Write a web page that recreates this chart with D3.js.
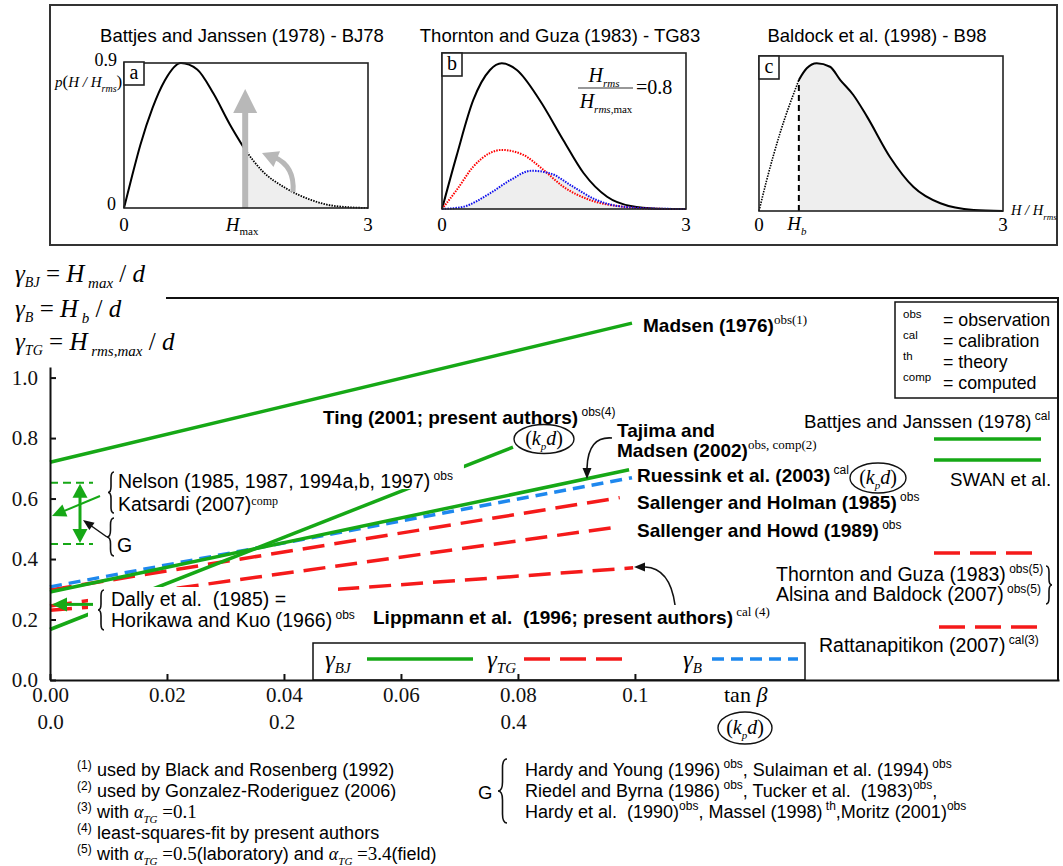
<!DOCTYPE html>
<html>
<head>
<meta charset="utf-8">
<script src="https://cdn.jsdelivr.net/npm/d3@7"></script>
<style>
    body { margin: 0; background: #fff; }
    text { white-space: pre; }
</style>
</head>
<body>
<script>
/*
 * Breaker index overview: wave height distributions (top) and
 * gamma vs. beach slope / kp*d (bottom).
 */

// ---- data ----
var slopeTicks = [0, 0.02, 0.04, 0.06, 0.08, 0.1];
var slopeLabels = ["0.00", "0.02", "0.04", "0.06", "0.08", "0.1"];
var kdTicks = [0, 0.2, 0.4];
var kdLabels = ["0.0", "0.2", "0.4"];
var gammaTicks = [0, 0.2, 0.4, 0.6, 0.8, 1.0];

// [tan beta, gamma]
var madsen76 = [[0, 0.72], [0.0995, 1.18]];
var tajima02 = [[0, 0.291], [0.099, 0.695]];
var ruessink03 = [[0, 0.308], [0.0995, 0.669]];
var holman85 = [[0, 0.298], [0.0974, 0.603]];
var howd89 = [[0, 0.245], [0.0974, 0.507]];
var lippmann96 = [[0, 0.231], [0.0997, 0.371]];
// [kp d, gamma]
var ting01 = [[0, 0.167], [0.4, 0.77]];
var gRange = [0.45, 0.652];
var nelsonValue = 0.546;
var dallyValue = 0.25;

// wave height pdfs, [H/Hrms, p]
var bjBody = [[0, 0], [0.1, 0.2], [0.2, 0.39], [0.35, 0.62], [0.5, 0.79], [0.7, 0.9], [0.9, 0.86],
    [1.1, 0.71], [1.3, 0.52], [1.49, 0.36]];
var bjTail = [[1.49, 0.36], [1.7, 0.23], [2.0, 0.12], [2.3, 0.05], [2.6, 0.012], [3, 0]];
var tgFull = [[0, 0], [0.18, 0.31], [0.385, 0.633], [0.59, 0.807], [0.735, 0.846], [0.92, 0.807],
    [1.2, 0.633], [1.49, 0.401], [1.74, 0.209], [2.03, 0.071], [2.32, 0.017], [2.64, 0.002], [3, 0]];
var tgBroken = [[0, 0], [0.18, 0.11], [0.385, 0.246], [0.59, 0.325], [0.735, 0.343], [1.0, 0.314],
    [1.25, 0.226], [1.49, 0.13], [1.82, 0.052], [2.23, 0.013], [2.64, 0.001], [3, 0]];
var tgWeighted = [[0, 0], [0.26, 0.013], [0.59, 0.091], [0.84, 0.168], [1.1, 0.222], [1.33, 0.207],
    [1.61, 0.13], [1.9, 0.052], [2.23, 0.013], [2.64, 0.002], [3, 0]];
var b98Below = [[0, 0], [0.095, 0.181], [0.258, 0.454], [0.49, 0.766]];
var b98Above = [[0.49, 0.766], [0.587, 0.834], [0.71, 0.863], [0.873, 0.843], [1.0, 0.765],
    [1.16, 0.678], [1.33, 0.55], [1.61, 0.316], [1.9, 0.14], [2.23, 0.045], [2.64, 0.006], [3, 0]];
var hMax = 1.49;
var hB = 0.49;

var SANS = "'Liberation Sans', Arial, sans-serif";
var SERIF = "'Liberation Serif', 'Times New Roman', serif";
var GREEN = "#16a816";
var RED = "#f51a1a";
var BLUE = "#1e88ee";

var svg = d3.select("body").append("svg")
        .attr("width", 1063)
        .attr("height", 866);

// text with sub/superscript pieces
function rich(parent, x, y, segs, base) {
    var t = parent.append("text")
            .attr("x", x)
            .attr("y", y)
            .attr("font-family", base.font || SANS)
            .attr("font-size", base.size)
            .attr("font-weight", base.bold ? "bold" : "normal")
            .attr("font-style", base.italic ? "italic" : "normal")
            .attr("text-anchor", base.anchor || "start");
    var shift = 0;
    segs.forEach(function (s) {
        if (typeof s === "string") s = {t: s};
        var target = s.shift || 0;
        var sp = t.append("tspan").text(s.t).attr("dy", target - shift);
        if (s.dx) sp.attr("dx", s.dx);
        if (s.size) sp.attr("font-size", s.size);
        if (s.font) sp.attr("font-family", s.font);
        if (s.bold != null) sp.attr("font-weight", s.bold ? "bold" : "normal");
        if (s.italic != null) sp.attr("font-style", s.italic ? "italic" : "normal");
        shift = target;
    });
    return t;
}

function sup(t, serif, size, shift) {
    return {t: t, shift: shift || -8, size: size || 12, font: serif ? SERIF : SANS, bold: false};
}
function sub(t, size) {
    return {t: t, shift: 5, size: size || 14, font: SERIF, italic: true};
}
function it(t) {
    return {t: t, font: SERIF, italic: true};
}

function brace(parent, x, y0, y1, w) {
    // w > 0: "{" with tip at x, w < 0: "}"
    var m = (y0 + y1) / 2, h = w / 2, r = Math.abs(w);
    var p = "M" + (x + w) + "," + y0
            + " Q" + (x + h) + "," + y0 + " " + (x + h) + "," + (y0 + r)
            + " L" + (x + h) + "," + (m - r)
            + " Q" + (x + h) + "," + m + " " + x + "," + m
            + " Q" + (x + h) + "," + m + " " + (x + h) + "," + (m + r)
            + " L" + (x + h) + "," + (y1 - r)
            + " Q" + (x + h) + "," + y1 + " " + (x + w) + "," + y1;
    parent.append("path").attr("d", p)
            .attr("fill", "none").attr("stroke", "#111").attr("stroke-width", 1.6);
}

function head(parent, x, y, ang, len, wid, color) {
    var c = Math.cos(ang), s = Math.sin(ang);
    var bx = x - c * len, by = y - s * len;
    parent.append("polygon")
            .attr("points", [[x, y], [bx - s * wid / 2, by + c * wid / 2], [bx + s * wid / 2, by - c * wid / 2]]
                    .map(function (p) { return p.join(","); }).join(" "))
            .attr("fill", color);
}

// ---- top: three distribution panels ----
svg.append("rect")
        .attr("x", 50).attr("y", 5).attr("width", 1007).attr("height", 240)
        .attr("fill", "none").attr("stroke", "#333").attr("stroke-width", 2);

var panels = [
    {x0: 124, x1: 368, yb: 208, yt: 63, letter: "a", title: "Battjes and Janssen (1978) - BJ78"},
    {x0: 442, x1: 686, yb: 209, yt: 54, letter: "b", title: "Thornton and Guza (1983) - TG83"},
    {x0: 759, x1: 1003, yb: 211, yt: 57, letter: "c", title: "Baldock et al. (1998) - B98"}
];

panels.forEach(function (p) {
    p.x = d3.scaleLinear().domain([0, 3]).range([p.x0, p.x1]);
    p.y = d3.scaleLinear().domain([0, 0.9]).range([p.yb, p.yt]);
    p.line = d3.line().curve(d3.curveMonotoneX)
            .x(function (d) { return p.x(d[0]); })
            .y(function (d) { return p.y(d[1]); });
    p.area = d3.area().curve(d3.curveMonotoneX)
            .x(function (d) { return p.x(d[0]); })
            .y0(p.yb)
            .y1(function (d) { return p.y(d[1]); });
    p.g = svg.append("g");
    rich(svg, (p.x0 + p.x1) / 2 - 4, 42, [p.title], {size: 18.5, anchor: "middle"});
});

var pa = panels[0], pb = panels[1], pc = panels[2];

// a: Battjes and Janssen
pa.g.append("path").attr("d", pa.area(bjTail)).attr("fill", "#eeeeee");
pa.g.append("path").attr("d", pa.line(bjBody))
        .attr("fill", "none").attr("stroke", "#000").attr("stroke-width", 2);
pa.g.append("path").attr("d", pa.line(bjTail))
        .attr("fill", "none").attr("stroke", "#000").attr("stroke-width", 1.8).attr("stroke-dasharray", "1.5,1.2");
pa.g.append("line")
        .attr("x1", pa.x(hMax)).attr("x2", pa.x(hMax)).attr("y1", pa.yb).attr("y2", 110)
        .attr("stroke", "#b8b8b8").attr("stroke-width", 6);
head(pa.g, pa.x(hMax), 89, -Math.PI / 2, 24, 24, "#b8b8b8");
pa.g.append("path").attr("d", "M293,192 Q295,166 274,157")
        .attr("fill", "none").attr("stroke", "#b8b8b8").attr("stroke-width", 5);
head(pa.g, 262, 153, Math.atan2(-5, -12), 16, 17, "#b8b8b8");

// b: Thornton and Guza
pb.g.append("path").attr("d", pb.area(tgWeighted)).attr("fill", "#eeeeee");
pb.g.append("path").attr("d", pb.line(tgFull))
        .attr("fill", "none").attr("stroke", "#000").attr("stroke-width", 2);
pb.g.append("path").attr("d", pb.line(tgBroken))
        .attr("fill", "none").attr("stroke", "#f00").attr("stroke-width", 2).attr("stroke-dasharray", "1.5,1.2");
pb.g.append("path").attr("d", pb.line(tgWeighted))
        .attr("fill", "none").attr("stroke", "#1010ee").attr("stroke-width", 2).attr("stroke-dasharray", "1.5,1.2");

// c: Baldock
pc.g.append("path").attr("d", pc.area(b98Above)).attr("fill", "#eeeeee");
pc.g.append("path").attr("d", pc.line(b98Below))
        .attr("fill", "none").attr("stroke", "#000").attr("stroke-width", 1.6).attr("stroke-dasharray", "1.5,1.2");
pc.g.append("path").attr("d", pc.line(b98Above))
        .attr("fill", "none").attr("stroke", "#000").attr("stroke-width", 2);
pc.g.append("line")
        .attr("x1", pc.x(hB)).attr("x2", pc.x(hB)).attr("y1", pc.yb).attr("y2", pc.y(b98Below[3][1]))
        .attr("stroke", "#000").attr("stroke-width", 2).attr("stroke-dasharray", "6,4");

panels.forEach(function (p) {
    p.g.append("rect")
            .attr("x", p.x0).attr("y", p.yt - (p.letter === "a" ? 0 : 1))
            .attr("width", p.x1 - p.x0).attr("height", p.yb - p.yt + (p.letter === "a" ? 0 : 1))
            .attr("fill", "none").attr("stroke", "#222").attr("stroke-width", 1.6);
    p.g.append("rect")
            .attr("x", p.x0).attr("y", p.yt - 1).attr("width", 20).attr("height", 23)
            .attr("fill", "#fff").attr("stroke", "#222").attr("stroke-width", 1.6);
    rich(p.g, p.x0 + 10, p.yt + 16, [p.letter], {size: 20, font: SERIF, anchor: "middle"});
    rich(p.g, p.x(0), 231, ["0"], {size: 19, font: SERIF, anchor: "middle"});
    rich(p.g, p.x(3), 231, ["3"], {size: 19, font: SERIF, anchor: "middle"});
});

rich(pa.g, 117, 66, ["0.9"], {size: 18, font: SERIF, anchor: "end"});
rich(pa.g, 116, 210, ["0"], {size: 18, font: SERIF, anchor: "end"});
rich(pa.g, 55, 87, [it("p"), {t: "(", size: 17, font: SERIF}, it("H / H"), sub("rms", 10), {t: ")", size: 17, font: SERIF}],
        {size: 15, font: SERIF});
rich(pa.g, pa.x(hMax) - 3, 231, [it("H"), {t: "max", shift: 4, size: 11, font: SERIF}], {size: 19, font: SERIF, anchor: "middle"});
rich(pc.g, pc.x(hB) - 2, 230, [it("H"), sub("b", 11)], {size: 19, font: SERIF, anchor: "middle"});
rich(pc.g, 1011, 215, [it("H / H"), sub("rms", 9)], {size: 14.5, font: SERIF});

// b: H_rms / H_rms,max = 0.8
rich(pb.g, 604, 82, [it("H"), sub("rms", 11)], {size: 20, font: SERIF, anchor: "middle"});
pb.g.append("line").attr("x1", 578).attr("x2", 633).attr("y1", 88).attr("y2", 88)
        .attr("stroke", "#333").attr("stroke-width", 1.2);
rich(pb.g, 606, 108, [it("H"), sub("rms", 11), {t: ",max", shift: 5, size: 11, font: SERIF}], {size: 20, font: SERIF, anchor: "middle"});
rich(pb.g, 636, 94, ["=0.8"], {size: 20, font: SERIF});

// ---- definitions of gamma ----
var defs = [
    {y: 282, sub: "BJ", rhs: "max"},
    {y: 317, sub: "B", rhs: "b"},
    {y: 350, sub: "TG", rhs: "rms,max"}
];
defs.forEach(function (d) {
    rich(svg, 15, d.y, [it("\u03b3"), sub(d.sub, 14), {t: " = ", font: SERIF, italic: false}, it("H"),
        {t: " " + d.rhs, shift: 6, size: 15, font: SERIF, italic: true}, {t: " / ", font: SERIF, italic: false}, it("d")],
            {size: 25, font: SERIF});
});

// ---- main chart ----
var xSlope = d3.scaleLinear().domain([0, 0.1725]).range([50, 1059]);
var xKd = d3.scaleLinear().domain([0, 0.4]).range([50, 513]);
var yGam = d3.scaleLinear().domain([0, 1.035]).range([680, 367]);

var lineS = d3.line()
        .x(function (d) { return xSlope(d[0]); })
        .y(function (d) { return yGam(d[1]); });
var lineK = d3.line()
        .x(function (d) { return xKd(d[0]); })
        .y(function (d) { return yGam(d[1]); });

var plot = svg.append("g");

var series = [
    {data: lippmann96, line: lineS, color: RED, dash: "22,10"},
    {data: howd89, line: lineS, color: RED, dash: "22,10"},
    {data: holman85, line: lineS, color: RED, dash: "22,10"},
    {data: ruessink03, line: lineS, color: BLUE, dash: "12,7"},
    {data: madsen76, line: lineS, color: GREEN, dash: null},
    {data: tajima02, line: lineS, color: GREEN, dash: null},
    {data: ting01, line: lineK, color: GREEN, dash: null}
];
plot.selectAll("path.series")
        .data(series)
        .enter()
        .append("path")
        .attr("class", "series")
        .attr("d", function (d) { return d.line(d.data); })
        .attr("fill", "none")
        .attr("stroke", function (d) { return d.color; })
        .attr("stroke-width", 3.5)
        .attr("stroke-dasharray", function (d) { return d.dash; });

// white label boxes hiding the lines behind the text
var labels = svg.append("g");
labels.append("rect").attr("x", 88).attr("y", 587).attr("width", 250).attr("height", 45).attr("fill", "#fff");

// axes
var xAxis = svg.append("g")
        .attr("transform", "translate(0,680)")
        .call(d3.axisBottom(xSlope)
                .tickValues(slopeTicks)
                .tickFormat(function (d, i) { return slopeLabels[i]; })
                .tickSizeInner(-6).tickSizeOuter(0).tickPadding(7));
var kdAxis = svg.append("g")
        .attr("transform", "translate(0,680)")
        .call(d3.axisBottom(xKd)
                .tickValues(kdTicks)
                .tickFormat(function (d, i) { return kdLabels[i]; })
                .tickSize(0).tickPadding(34));
kdAxis.select(".domain").remove();
var yAxis = svg.append("g")
        .attr("transform", "translate(50,0)")
        .call(d3.axisLeft(yGam)
                .tickValues(gammaTicks)
                .tickFormat(d3.format(".1f"))
                .tickSizeInner(-6).tickSizeOuter(0).tickPadding(12));
[xAxis, kdAxis, yAxis].forEach(function (a) {
    a.selectAll("text").attr("font-family", SERIF).attr("font-size", 21).attr("fill", "#111");
    a.selectAll("line").attr("stroke", "#111").attr("stroke-width", 2);
    a.selectAll(".domain").attr("stroke", "#111").attr("stroke-width", 2);
});

svg.append("path")
        .attr("d", "M166,298 L1058,298 L1058,680")
        .attr("fill", "none").attr("stroke", "#111").attr("stroke-width", 2);

rich(svg, 724, 702, ["tan ", it("\u03b2")], {size: 22, font: SERIF});

function kpd(cx, cy, rx, ry) {
    svg.append("ellipse").attr("cx", cx).attr("cy", cy).attr("rx", rx).attr("ry", ry)
            .attr("fill", "#fff").attr("stroke", "#111").attr("stroke-width", 1.4);
    rich(svg, cx, cy + 6, ["(", it("k"), sub("p", 11), {t: "d", shift: 0, font: SERIF, italic: true}, ")"],
            {size: 20, font: SERIF, anchor: "middle"});
}
kpd(745, 728, 27, 16);
kpd(544, 439, 30, 14.5);
kpd(878, 478, 28, 15);

// G range and arrows near the axis
var gx0 = xSlope(0), gx1 = 93;
gRange.forEach(function (v) {
    labels.append("line").attr("x1", gx0).attr("x2", gx1).attr("y1", yGam(v)).attr("y2", yGam(v))
            .attr("stroke", GREEN).attr("stroke-width", 2).attr("stroke-dasharray", "8,5");
});
labels.append("line").attr("x1", 80).attr("x2", 80).attr("y1", yGam(gRange[1]) + 12).attr("y2", yGam(gRange[0]) - 12)
        .attr("stroke", GREEN).attr("stroke-width", 3);
head(labels, 80, yGam(gRange[1]) + 1, -Math.PI / 2, 14, 15, GREEN);
head(labels, 80, yGam(gRange[0]) - 1, Math.PI / 2, 14, 15, GREEN);
labels.append("line").attr("x1", 107).attr("y1", 537).attr("x2", 90).attr("y2", 525)
        .attr("stroke", "#111").attr("stroke-width", 1.5);
head(labels, 83, 520, Math.atan2(-17, -24), 11, 9, "#111");

labels.append("line").attr("x1", 100).attr("y1", 496).attr("x2", 62).attr("y2", yGam(nelsonValue) - 3)
        .attr("stroke", GREEN).attr("stroke-width", 2);
head(labels, 52, yGam(nelsonValue) + 1, Math.atan2(20, -48), 14, 13, GREEN);
labels.append("line").attr("x1", 93).attr("x2", 64).attr("y1", yGam(dallyValue)).attr("y2", yGam(dallyValue))
        .attr("stroke", GREEN).attr("stroke-width", 3);
head(labels, 52, yGam(dallyValue), Math.PI, 15, 14, GREEN);

// curved pointers
labels.append("path").attr("d", "M612,438 Q588,436 587,468")
        .attr("fill", "none").attr("stroke", "#111").attr("stroke-width", 1.6);
head(labels, 587, 479, Math.PI / 2, 11, 9, "#111");
labels.append("path").attr("d", "M675,605 Q670,568 645,567")
        .attr("fill", "none").attr("stroke", "#111").attr("stroke-width", 1.6);
head(labels, 634, 567, Math.PI, 11, 9, "#111");

// white background behind a text line
function boxed(t) {
    var b = t.node().getBBox();
    labels.insert("rect", "text").attr("x", b.x - 1).attr("y", b.y - 6).attr("width", b.width + 12).attr("height", b.height + 3)
            .attr("fill", "#fff");
    return t;
}

// bold study labels
var B = {size: 19, bold: true};
rich(labels, 643, 332, ["Madsen (1976)", sup("obs(1)", true, 13)], B);
rich(labels, 323, 424, ["Ting (2001; present authors)", sup(" obs(4)")], B);
rich(labels, 617, 437, ["Tajima and"], B);
rich(labels, 617, 457, ["Madsen (2002)", sup("obs, comp(2)", true, 13)], B);
rich(labels, 637, 482, ["Ruessink et al. (2003)", sup(" cal")], B);
rich(labels, 637, 509, ["Sallenger and Holman (1985)", sup(" obs")], B);
rich(labels, 637, 537, ["Sallenger and Howd (1989)", sup(" obs")], B);
rich(labels, 373, 624, ["Lippmann et al.  (1996; present authors)", sup(" cal (4)", true, 13)], B);

// regular labels
var R = {size: 19.5};
boxed(rich(labels, 118, 488, ["Nelson (1985, 1987, 1994a,b, 1997)", sup(" obs")], R));
rich(labels, 118, 511, ["Katsardi (2007)", sup("comp", true, 12, -6)], R);
brace(labels, 108, 472, 513, 6);
rich(labels, 117, 552, ["G"], R);
brace(labels, 107, 518, 556, 7);
rich(labels, 111, 606, ["Dally et al.  (1985) ="], R);
rich(labels, 111, 627, ["Horikawa and Kuo (1966)", sup(" obs")], R);
brace(labels, 98, 590, 630, 6);

rich(labels, 804, 428, ["Battjes and Janssen (1978)", sup(" cal")], {size: 18.7});
rich(labels, 950, 486, ["SWAN et al."], {size: 18.7});
rich(labels, 776, 581, ["Thornton and Guza (1983)", sup(" obs(5)")], R);
rich(labels, 776, 601, ["Alsina and Baldock (2007)", sup(" obs(5)")], R);
brace(labels, 1052, 566, 604, -6);
rich(labels, 819, 652, ["Rattanapitikon (2007)", sup(" cal(3)")], R);

var legendLines = [
    {y: 439, x0: 934, x1: 1041, color: GREEN, dash: null},
    {y: 460, x0: 934, x1: 1041, color: GREEN, dash: null},
    {y: 553, x0: 934, x1: 1042, color: RED, dash: "26,10,26,10,26,10,4,20"},
    {y: 627, x0: 939, x1: 1045, color: RED, dash: "26,10,26,10,26,10,4,20"}
];
legendLines.forEach(function (d) {
    labels.append("line").attr("x1", d.x0).attr("x2", d.x1).attr("y1", d.y).attr("y2", d.y)
            .attr("stroke", d.color).attr("stroke-width", 3.5).attr("stroke-dasharray", d.dash);
});

// source type key
labels.append("rect").attr("x", 895).attr("y", 302).attr("width", 163).attr("height", 96)
        .attr("fill", "#fff").attr("stroke", "#111").attr("stroke-width", 1.5);
var keys = [["obs", "= observation"], ["cal", "= calibration"], ["th", "= theory"], ["comp", "= computed"]];
keys.forEach(function (k, i) {
    rich(labels, 903, 318 + i * 21, [k[0]], {size: 11.5});
    rich(labels, 943, 326 + i * 21, [k[1]], {size: 17.8});
});

// gamma legend box
labels.append("rect").attr("x", 313).attr("y", 643).attr("width", 492).attr("height", 37)
        .attr("fill", "#fff").attr("stroke", "#111").attr("stroke-width", 1.5);
var gammaKey = [
    {x: 325, sub: "BJ", x0: 367, x1: 473, color: GREEN, dash: null},
    {x: 487, sub: "TG", x0: 524, x1: 632, color: RED, dash: "26,10,26,10,26,10,4,20"},
    {x: 683, sub: "B", x0: 712, x1: 798, color: BLUE, dash: "12,7"}
];
gammaKey.forEach(function (k) {
    rich(labels, k.x, 668, [it("\u03b3"), sub(k.sub, 15)], {size: 25, font: SERIF});
    labels.append("line").attr("x1", k.x0).attr("x2", k.x1).attr("y1", 659).attr("y2", 659)
            .attr("stroke", k.color).attr("stroke-width", 3.5).attr("stroke-dasharray", k.dash);
});

// ---- footnotes ----
var alpha = function (v) {
    return [it("\u03b1"), sub("TG", 11), {t: " =" + v, font: SERIF, italic: false, size: 19}];
};
var notes = [
    ["used by Black and Rosenberg (1992)"],
    ["used by Gonzalez-Roderiguez (2006)"],
    ["with "].concat(alpha("0.1")),
    ["least-squares-fit by present authors"],
    ["with "].concat(alpha("0.5")).concat(["(laboratory) and "]).concat(alpha("3.4")).concat(["(field)"])
];
notes.forEach(function (n, i) {
    var y = 776 + i * 21;
    rich(svg, 77, y - 7, ["(" + (i + 1) + ")"], {size: 12});
    rich(svg, 97, y, n, {size: 18});
});

var gRefs = [
    ["Hardy and Young (1996)", sup(" obs"), {t: ", Sulaiman et al. (1994)", shift: 0, size: 18, font: SANS}, sup(" obs")],
    ["Riedel and Byrna (1986)", sup(" obs"), {t: ", Tucker et al.  (1983)", shift: 0, size: 18, font: SANS}, sup("obs"),
        {t: ",", shift: 0, size: 18, font: SANS}],
    ["Hardy et al.  (1990)", sup("obs"), {t: ", Massel (1998)", shift: 0, size: 18, font: SANS}, sup(" th"),
        {t: ",Moritz (2001)", shift: 0, size: 18, font: SANS}, sup("obs")]
];
gRefs.forEach(function (r, i) {
    rich(svg, 525, 776 + i * 21, r, {size: 18});
});
rich(svg, 478, 799, ["G"], {size: 18.5});
brace(svg, 498, 759, 823, 9);
</script>
</body>
</html>
